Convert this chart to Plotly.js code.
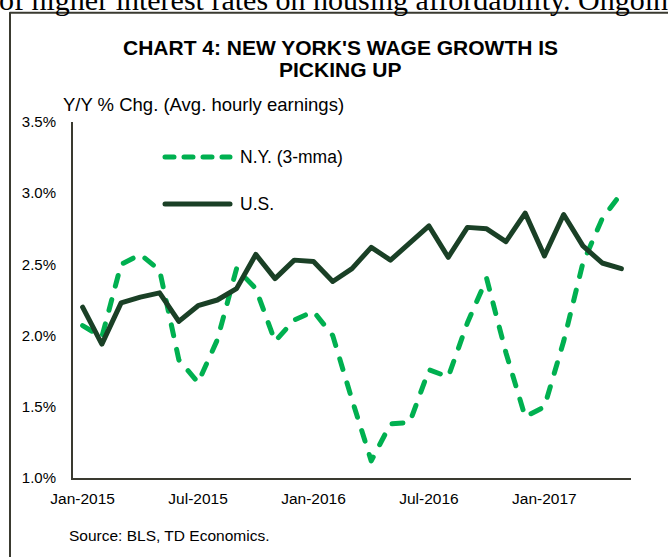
<!DOCTYPE html>
<html><head><meta charset="utf-8">
<script src="https://cdn.plot.ly/plotly-3.0.1.min.js"></script>
<style>
html,body{margin:0;padding:0;background:#fff;overflow:hidden;}
#chart{width:668px;height:557px;}
.scatterlayer path.js-line, .shapelayer path {stroke-linecap: round; stroke-linejoin: round;}
</style></head><body><div id="chart"></div>
<script>
const months = ['Jan-2015','Feb-2015','Mar-2015','Apr-2015','May-2015','Jun-2015','Jul-2015','Aug-2015','Sep-2015','Oct-2015','Nov-2015','Dec-2015',
  'Jan-2016','Feb-2016','Mar-2016','Apr-2016','May-2016','Jun-2016','Jul-2016','Aug-2016','Sep-2016','Oct-2016','Nov-2016','Dec-2016',
  'Jan-2017','Feb-2017','Mar-2017','Apr-2017','May-2017'];
const nyWage = [2.07, 1.99, 2.50, 2.57, 2.46, 1.83, 1.67, 1.97, 2.47, 2.33, 1.96, 2.11, 2.17, 2.00, 1.55, 1.12, 1.38, 1.39, 1.76, 1.71, 2.09, 2.40, 1.88, 1.43, 1.50, 1.96, 2.51, 2.82, 3.00];
const usWage = [2.20, 1.94, 2.23, 2.27, 2.30, 2.10, 2.21, 2.25, 2.33, 2.57, 2.40, 2.53, 2.52, 2.38, 2.47, 2.62, 2.53, 2.65, 2.77, 2.55, 2.76, 2.75, 2.66, 2.86, 2.56, 2.85, 2.63, 2.51, 2.47];
const xTickLabels = ['Jan-2015','Jul-2015','Jan-2016','Jul-2016','Jan-2017'];
const yTickValues = [1.0, 1.5, 2.0, 2.5, 3.0, 3.5];
const yTickLabels = ['1.0%','1.5%','2.0%','2.5%','3.0%','3.5%'];
const seriesNames = ['N.Y. (3-mma)', 'U.S.'];
const titleLines = ["CHART 4: NEW YORK'S WAGE GROWTH IS", 'PICKING UP'];
const yAxisLabel = 'Y/Y % Chg. (Avg. hourly earnings)';
const sourceText = 'Source: BLS, TD Economics.';
const topText = 'of higher interest rates on housing affordability. Ongoing';

const NY_COLOR = '#00b050', US_COLOR = '#1a4026', AXIS_COLOR = '#3a3a30';
const FONT = 'Liberation Sans, Arial, sans-serif';

const traces = [
  {x: months, y: nyWage, name: seriesNames[0], type: 'scatter', mode: 'lines',
   line: {color: NY_COLOR, width: 5, dash: '11px,14px'}},
  {x: months, y: usWage, name: seriesNames[1], type: 'scatter', mode: 'lines',
   line: {color: US_COLOR, width: 5}}
];

const L = 73, T = 122, W = 558, H = 356;
const px = v => (v - L) / W;
const py = v => 1 - (v - T) / H;

const layout = {
  width: 668, height: 557,
  margin: {l: L, r: 668 - L - W, t: T, b: 557 - T - H, pad: 0},
  paper_bgcolor: '#fff', plot_bgcolor: '#fff',
  showlegend: false,
  font: {family: FONT, color: '#000', size: 15},
  xaxis: {type: 'category', range: [-0.5, months.length - 0.5], tickmode: 'array',
    tickvals: xTickLabels, ticktext: xTickLabels, showgrid: false, zeroline: false,
    showline: true, linecolor: AXIS_COLOR, linewidth: 2, ticks: '',
    tickfont: {size: 15.5, family: FONT, color: '#000'}, ticklabelstandoff: 5, fixedrange: true},
  yaxis: {range: [1.0, 3.5], tickmode: 'array', tickvals: yTickValues, ticktext: yTickLabels,
    showgrid: false, zeroline: false, showline: true, linecolor: AXIS_COLOR, linewidth: 2, ticks: '',
    tickfont: {size: 15, family: FONT, color: '#000'}, ticklabelstandoff: 12, fixedrange: true},
  shapes: [
    {type: 'rect', xref: 'paper', yref: 'paper', x0: px(10), x1: px(700), y0: py(600), y1: py(12.7),
     line: {color: AXIS_COLOR, width: 2}, fillcolor: 'rgba(0,0,0,0)', layer: 'below'},
    {type: 'line', xref: 'paper', yref: 'paper', x0: px(165), x1: px(230), y0: py(157), y1: py(157),
     line: {color: NY_COLOR, width: 5, dash: '9px,10px'}},
    {type: 'line', xref: 'paper', yref: 'paper', x0: px(165), x1: px(230), y0: py(204), y1: py(204),
     line: {color: US_COLOR, width: 5}}
  ],
  annotations: [
    {text: topText, xref: 'paper', yref: 'paper', x: px(-3), y: py(-1), xanchor: 'left', yanchor: 'middle',
     showarrow: false, font: {family: 'Liberation Serif, Times New Roman, serif', size: 30, color: '#000'}},
    {text: '<b>' + titleLines[0] + '</b>', xref: 'paper', yref: 'paper', x: px(340), y: py(47), xanchor: 'center', yanchor: 'middle',
     showarrow: false, font: {family: FONT, size: 21, color: '#000'}},
    {text: '<b>' + titleLines[1] + '</b>', xref: 'paper', yref: 'paper', x: px(340), y: py(69), xanchor: 'center', yanchor: 'middle',
     showarrow: false, font: {family: FONT, size: 21, color: '#000'}},
    {text: yAxisLabel, xref: 'paper', yref: 'paper', x: px(61), y: py(104), xanchor: 'left', yanchor: 'middle',
     showarrow: false, font: {family: FONT, size: 18.5, color: '#000'}},
    {text: seriesNames[0], xref: 'paper', yref: 'paper', x: px(238), y: py(157), xanchor: 'left', yanchor: 'middle',
     showarrow: false, font: {family: FONT, size: 17.5, color: '#000'}},
    {text: seriesNames[1], xref: 'paper', yref: 'paper', x: px(238), y: py(204), xanchor: 'left', yanchor: 'middle',
     showarrow: false, font: {family: FONT, size: 17.5, color: '#000'}},
    {text: sourceText, xref: 'paper', yref: 'paper', x: px(67), y: py(535), xanchor: 'left', yanchor: 'middle',
     showarrow: false, font: {family: FONT, size: 15.5, color: '#000'}}
  ]
};

Plotly.newPlot('chart', traces, layout, {staticPlot: true, displayModeBar: false});
</script></body></html>
